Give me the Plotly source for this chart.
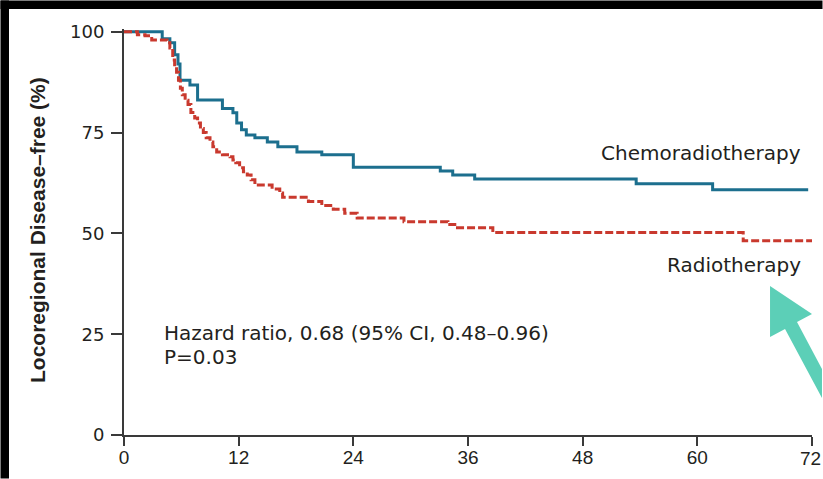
import plotly.graph_objects as go

# ---------------- data ----------------
chemo_months = [0, 4.0, 4.8, 5.3, 5.65, 5.86, 6.9, 7.7, 10.3, 11.4, 11.8, 12.3, 12.8,
                13.7, 15.0, 16.1, 18.1, 20.7, 24.0, 33.1, 34.4, 36.7, 53.6, 61.6, 71.6]
chemo_surv = [100, 98.3, 97.3, 94.3, 92.0, 88.0, 86.8, 83.1, 81.0, 79.9, 77.4, 75.7, 74.4,
              73.7, 72.7, 71.5, 70.2, 69.5, 66.4, 65.5, 64.5, 63.5, 62.3, 60.8, 60.8]

radio_months = [0, 1.4, 2.2, 2.9, 4.5, 4.8, 5.1, 5.3, 5.5, 5.7, 5.9, 6.1, 6.4, 6.7, 7.0,
                7.4, 7.7, 8.0, 8.3, 8.6, 9.0, 9.3, 9.7, 10.3, 11.1, 11.4, 11.7, 12.1, 12.5,
                12.9, 13.3, 13.7, 15.5, 16.3, 16.6, 19.3, 20.7, 21.9, 23.1, 24.4, 29.3,
                33.9, 34.9, 38.6, 64.8, 72.0]
radio_surv = [100, 99.3, 99.0, 98.0, 97.3, 96.0, 93.0, 91.3, 90.0, 88.0, 86.0, 84.4, 83.0,
              82.0, 80.0, 78.6, 77.4, 76.0, 75.0, 73.7, 72.7, 71.5, 70.2, 69.5, 69.0, 68.2,
              67.5, 66.3, 65.3, 64.5, 63.3, 62.0, 61.0, 60.0, 59.0, 57.9, 56.9, 56.0, 55.0,
              53.8, 52.9, 52.2, 51.4, 50.2, 48.2, 48.2]

x_ticks = [0, 12, 24, 36, 48, 60, 72]
x_tick_text = ["0", "12", "24", "36", "48", "60", "72"]
y_ticks = [0, 25, 50, 75, 100]

series_names = ["Chemoradiotherapy", "Radiotherapy"]
y_title = "Locoregional Disease\u2013free (%)"
hr_text = "Hazard ratio, 0.68 (95% CI, 0.48\u20130.96)"
p_text = "P=0.03"

# ---------------- layout geometry (pixels) ----------------
W, H = 823, 479
L, R, T, B = 124, 11, 29, 44
PW, PH = W - L - R, H - T - B


def px(xp):
    return (xp - L) / PW


def py(yp):
    return (H - B - yp) / PH


BLUE = "#1c6f8e"
RED = "#c9392e"
TXT = "#231f20"
AX = "#3a3a3a"
XFONT = dict(family="Liberation Sans Narrow, Liberation Sans, sans-serif", size=19, color=TXT)

fig = go.Figure()
fig.add_trace(go.Scatter(x=chemo_months, y=chemo_surv, mode="lines", line_shape="hv",
                         line=dict(color=BLUE, width=3), name=series_names[0]))
fig.add_trace(go.Scatter(x=radio_months, y=radio_surv, mode="lines", line_shape="hv",
                         line=dict(color=RED, width=3, dash="8px,3px"), name=series_names[1]))

ann_font = dict(family="DejaVu Sans, sans-serif", size=20, color=TXT)
annotations = [
    dict(text=series_names[0], x=px(803), y=py(153), xanchor="right", yanchor="middle",
         font=ann_font),
    dict(text=series_names[1], x=px(803), y=py(265), xanchor="right", yanchor="middle",
         font=ann_font),
    dict(text=hr_text, x=px(162), y=py(333), xanchor="left", yanchor="middle", font=ann_font),
    dict(text=p_text, x=px(162), y=py(357), xanchor="left", yanchor="middle", font=ann_font),
    dict(text="<b>" + y_title + "</b>", x=px(37), y=py(230), textangle=-90,
         xanchor="center", yanchor="middle",
         font=dict(family="Liberation Sans, Arial, sans-serif", size=21, color=TXT)),
    # last x tick label kept inside the page edge
    dict(text=x_tick_text[-1], x=x_ticks[-1], xref="x", y=py(459), xanchor="right",
         xshift=10, yanchor="middle", font=XFONT, borderpad=0),
]
for a in annotations:
    a.setdefault("xref", "paper")
    a.update(yref="paper", showarrow=False)

# decorative teal arrow and black frame strips (pixel polygons -> paper coords)
arrow_pts = [(770, 286), (812, 314), (797, 322), (822, 369), (822, 398), (785, 329), (770, 337)]
path = "M " + " L ".join(f"{px(a):.4f},{py(b):.4f}" for a, b in arrow_pts) + " Z"
shapes = [
    dict(type="path", path=path, xref="paper", yref="paper", fillcolor="#5ccfb7",
         line=dict(width=0), layer="above"),
    dict(type="rect", x0=px(0.5), x1=px(W - 0.5), y0=py(9), y1=py(0.5), xref="paper",
         yref="paper", fillcolor="black", line=dict(width=0), layer="above"),
    dict(type="rect", x0=px(0.5), x1=px(9), y0=py(H - 0.5), y1=py(0.5), xref="paper",
         yref="paper", fillcolor="black", line=dict(width=0), layer="above"),
]

fig.update_layout(
    width=W, height=H, margin=dict(l=L, r=R, t=T, b=B),
    paper_bgcolor="white", plot_bgcolor="white", showlegend=False,
    annotations=annotations, shapes=shapes,
    xaxis=dict(range=[0, 72], tickvals=x_ticks, ticktext=x_tick_text[:-1] + [""],
               ticks="outside", ticklen=9, tickwidth=1.6,
               tickcolor=AX, showline=True, linecolor=AX, linewidth=2, showgrid=False,
               zeroline=False, ticklabelstandoff=-5, tickfont=XFONT),
    yaxis=dict(range=[0, 100.7], tickvals=y_ticks, ticks="outside", ticklen=11, tickwidth=1.6,
               tickcolor=AX, showline=True, linecolor=AX, linewidth=2, showgrid=False,
               zeroline=False, ticklabelstandoff=3,
               tickfont=dict(family="DejaVu Sans, sans-serif", size=18, color=TXT)),
)

fig.write_html("out.html")
